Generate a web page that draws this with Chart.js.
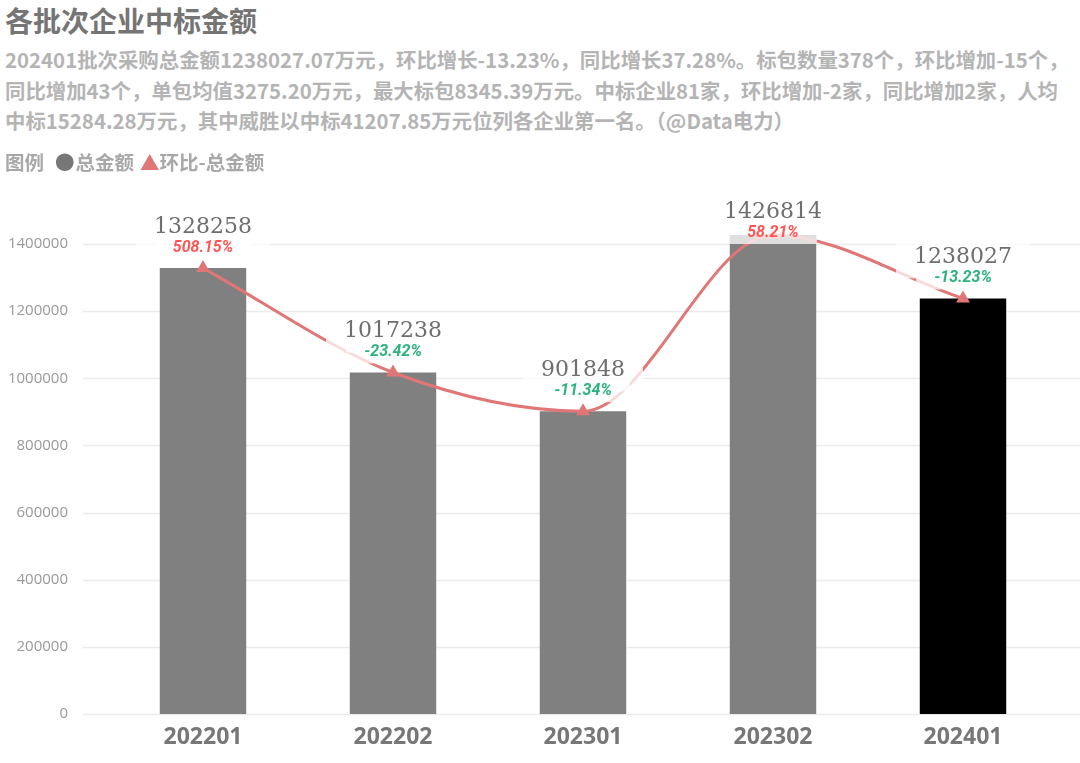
<!DOCTYPE html>
<html>
<head>
<meta charset="utf-8">
<script src="https://cdn.jsdelivr.net/npm/chart.js@4"></script>
<style>
    html, body { margin: 0; padding: 0; background: #fff; }
    body { width: 1080px; height: 763px; position: relative; overflow: hidden; font-family: "Noto Sans CJK SC", "Noto Sans", sans-serif; }
    #title { position: absolute; left: 5px; top: 0px; font-size: 28px; font-weight: bold; color: #757575; line-height: 40px; }
    #subtitle { position: absolute; left: 5px; top: 44px; font-size: 20.4px; font-weight: bold; color: #b4b4b4; line-height: 30.5px; white-space: nowrap; }
    #legend { position: absolute; left: 5px; top: 148px; font-size: 19.5px; font-weight: bold; color: #a8a8a8; line-height: 28px; white-space: nowrap; }
    #legend span { display: inline-block; }
    #legend .dot { color: #777; margin-left: 11px; margin-right: 1px; }
    #legend .tri { color: #e07676; margin-left: 6px; margin-right: 0px; }
    #chartBox { position: absolute; left: 0; top: 148px; width: 1080px; height: 615px; }
    #chartBox canvas { display: block; }
</style>
</head>
<body>
<div id="title">各批次企业中标金额</div>
<div id="subtitle">202401批次采购总金额1238027.07万元，环比增长-13.23%，同比增长37.28%。标包数量378个，环比增加-15个，<br>同比增加43个，单包均值3275.20万元，最大标包8345.39万元。中标企业81家，环比增加-2家，同比增加2家，人均<br>中标15284.28万元，其中威胜以中标41207.85万元位列各企业第一名。（@Data电力）</div>
<div id="chartBox"><canvas id="chart" width="1080" height="615"></canvas></div>
<div id="legend"><span>图例</span><span class="dot">●</span><span>总金额</span><span class="tri">▲</span><span>环比-总金额</span></div>
<script>
// Data
const batches = ['202201', '202202', '202301', '202302', '202401'];
const totalAmount = [1328258, 1017238, 901848, 1426814, 1238027];
const momChange = [508.15, -23.42, -11.34, 58.21, -13.23];
const yTicks = [0, 200000, 400000, 600000, 800000, 1000000, 1200000, 1400000];

const lineColor = '#e07676';

// Full-width horizontal grid lines
const gridPlugin = {
    id: 'wideGrid',
    beforeDatasetsDraw(chart) {
        const ctx = chart.ctx;
        const y = chart.scales.y;
        ctx.save();
        ctx.strokeStyle = '#ebebeb';
        ctx.lineWidth = 1.5;
        y.ticks.forEach(t => {
            const py = Math.round(y.getPixelForValue(t.value)) + 0.5;
            ctx.beginPath();
            ctx.moveTo(83, py);
            ctx.lineTo(chart.width, py);
            ctx.stroke();
        });
        ctx.restore();
    }
};

// Value + percent labels with translucent white boxes
const labelPlugin = {
    id: 'pointLabels',
    afterDatasetsDraw(chart) {
        const ctx = chart.ctx;
        const meta = chart.getDatasetMeta(1);
        const valueFont = '22px "DejaVu Serif", serif';
        const pctFont = 'italic bold 16px Roboto, "Noto Sans", sans-serif';
        const items = meta.data.map((pt, i) => {
            const valueY = Math.max(pt.y - 41, chart.chartArea.top + 15);
            return { x: pt.x, valueY: valueY, pctY: valueY + 21, i: i };
        });
        ctx.save();
        ctx.fillStyle = 'rgba(255,255,255,0.75)';
        items.forEach(it => {
            ctx.font = valueFont;
            const vw = ctx.measureText(String(totalAmount[it.i])).width;
            ctx.fillRect(it.x - vw / 2 - 18, it.valueY - 17, vw + 36, 38);
            ctx.font = pctFont;
            const pw = ctx.measureText(momChange[it.i].toFixed(2) + '%').width;
            ctx.fillRect(it.x - pw / 2 - 18, it.pctY - 11, pw + 36, 22);
        });
        ctx.textAlign = 'center';
        ctx.textBaseline = 'middle';
        items.forEach(it => {
            ctx.font = valueFont;
            ctx.fillStyle = '#6e6e6e';
            ctx.fillText(String(totalAmount[it.i]), it.x, it.valueY);
            ctx.font = pctFont;
            ctx.fillStyle = momChange[it.i] >= 0 ? '#ff5555' : '#2db37d';
            ctx.fillText(momChange[it.i].toFixed(2) + '%', it.x, it.pctY);
        });
        ctx.restore();
    }
};

const chart = new Chart(document.getElementById('chart').getContext('2d'), {
    data: {
        labels: batches,
        datasets: [{
            type: 'bar',
            label: '总金额',
            data: totalAmount,
            backgroundColor: ctx => ctx.dataIndex === batches.length - 1 ? '#000000' : '#808080',
            barPercentage: 0.455,
            categoryPercentage: 1,
            order: 1
        }, {
            type: 'line',
            label: '环比-总金额',
            data: totalAmount,
            borderColor: lineColor,
            backgroundColor: lineColor,
            borderWidth: 3,
            cubicInterpolationMode: 'monotone',
            pointStyle: 'triangle',
            pointRadius: 8,
            pointBorderWidth: 0,
            order: 0
        }]
    },
    options: {
        responsive: false,
        animation: false,
        layout: { padding: { left: 0, right: 22, top: 20, bottom: 2 } },
        plugins: {
            legend: { display: false },
            tooltip: { enabled: false }
        },
        scales: {
            x: {
                grid: { display: false },
                border: { display: false },
                ticks: {
                    color: '#777',
                    padding: 2,
                    font: { family: '"Open Sans", sans-serif', size: 23, weight: 'bold' }
                }
            },
            y: {
                min: 0,
                max: 1540000,
                grid: { display: false, drawTicks: false },
                border: { display: false },
                afterBuildTicks: scale => {
                    scale.ticks = yTicks.map(v => ({ value: v }));
                },
                afterFit: scale => { scale.width = 108; },
                ticks: {
                    color: '#999',
                    padding: 40,
                    font: { family: '"Open Sans", sans-serif', size: 15 },
                    callback: v => String(v)
                }
            }
        }
    },
    plugins: [gridPlugin, labelPlugin]
});
</script>
</body>
</html>
